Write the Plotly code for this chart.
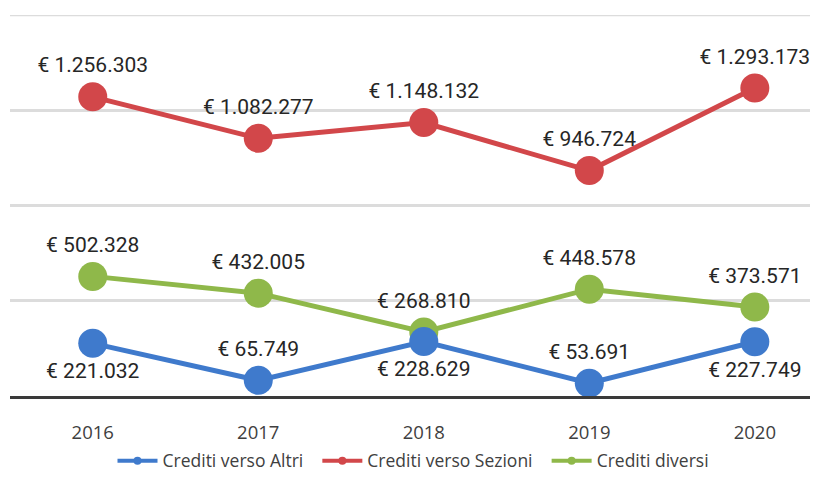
import plotly.graph_objects as go

# Data
years = ["2016", "2017", "2018", "2019", "2020"]
altri = [221032, 65749, 228629, 53691, 227749]
sezioni = [1256303, 1082277, 1148132, 946724, 1293173]
diversi = [502328, 432005, 268810, 448578, 373571]

series_names = ["Crediti verso Altri", "Crediti verso Sezioni", "Crediti diversi"]
series_colors = ["#3f7acc", "#d2474a", "#8fb84a"]

altri_pos = ["bottom center", "top center", "bottom center", "top center", "bottom center"]


def euro(v):
    return "€ " + f"{v:,}".replace(",", ".")


fig = go.Figure()

label_font = dict(family="Roboto, sans-serif", size=21, color="#262626")

# green first, then red, then blue on top (blue sits over green in 2018)
for name, vals, color, pos in [
    (series_names[2], diversi, series_colors[2], "top center"),
    (series_names[1], sezioni, series_colors[1], "top center"),
    (series_names[0], altri, series_colors[0], altri_pos),
]:
    fig.add_trace(go.Scatter(
        x=years,
        y=vals,
        mode="lines+markers+text",
        name=name,
        text=[euro(v) for v in vals],
        textposition=pos,
        textfont=label_font,
        line=dict(color=color, width=5),
        marker=dict(color=color, size=29),
        showlegend=False,
        cliponaxis=False,
    ))

# legend-only traces with small markers
pad = "\u00a0" * 2
for name, color in zip(series_names, series_colors):
    fig.add_trace(go.Scatter(
        x=[None], y=[None],
        mode="lines+markers",
        name=name + pad,
        line=dict(color=color, width=4),
        marker=dict(color=color, size=8),
    ))

# top gridline and the darker 400k line as in the reference
fig.add_hline(y=1600000, line_color="#dcdcdc", line_width=2.5, layer="below")
fig.add_hline(y=400000, line_color="#a8a8a8", line_width=2.5, layer="below")

fig.update_layout(
    width=818,
    height=488,
    margin=dict(l=2, r=0, t=7, b=100),
    plot_bgcolor="white",
    paper_bgcolor="white",
    font=dict(family="Open Sans, sans-serif", color="#404040"),
    xaxis=dict(
        type="category",
        range=[-0.5, 4.43],
        showgrid=False,
        showline=True,
        linecolor="#3a3a3a",
        linewidth=3,
        ticks="",
        tickfont=dict(size=18.5, color="#404040"),
        ticklabelstandoff=18,
    ),
    yaxis=dict(
        range=[0, 1600000],
        dtick=400000,
        showgrid=True,
        gridcolor="#dcdcdc",
        gridwidth=2.5,
        zeroline=False,
        showticklabels=False,
    ),
    legend=dict(
        orientation="h",
        x=0.5,
        xanchor="center",
        y=-0.17,
        yanchor="middle",
        font=dict(size=17.5, color="#404040"),
        itemwidth=40,
    ),
)

fig.write_html("out.html")
